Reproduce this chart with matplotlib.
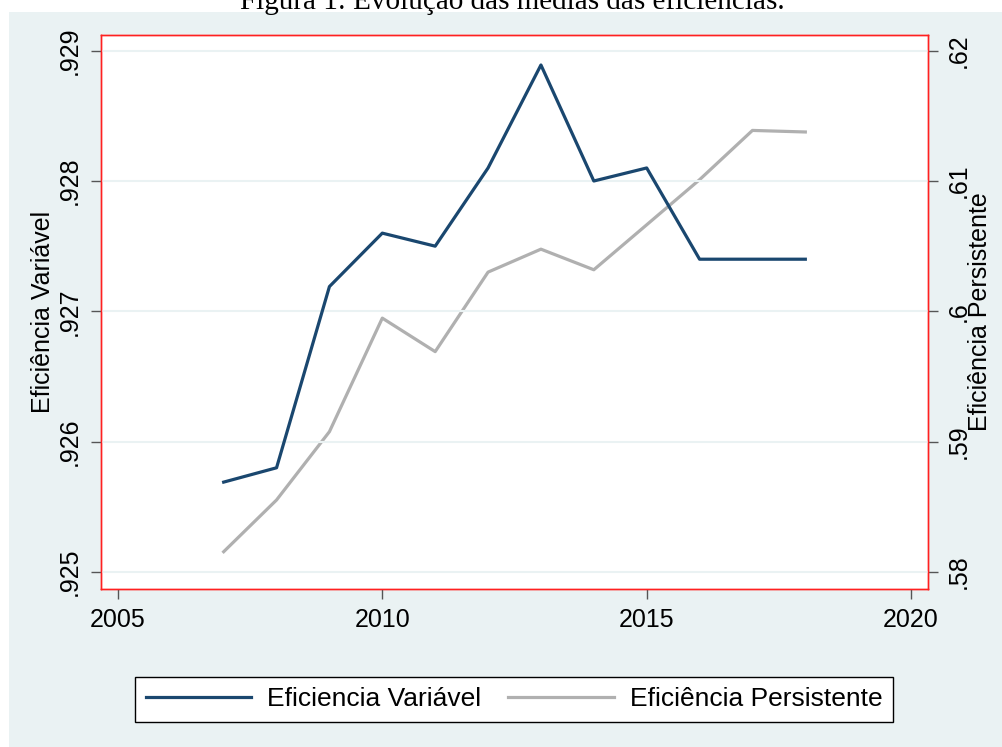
import matplotlib
matplotlib.use("Agg")
import matplotlib.pyplot as plt
from matplotlib.patches import Rectangle

# dados
anos = [2007, 2008, 2009, 2010, 2011, 2012, 2013, 2014, 2015, 2016, 2017, 2018]
ef_variavel = [0.92569, 0.92580, 0.92719, 0.92760, 0.92750, 0.92810,
               0.92889, 0.92800, 0.92810, 0.92740, 0.92740, 0.92740]
ef_persistente = [0.58156, 0.58553, 0.59077, 0.59948, 0.59691, 0.60301,
                  0.60477, 0.60319, 0.60664, 0.61010, 0.61388, 0.61376]

xticks = [2005, 2010, 2015, 2020]
yticks_esq = [0.925, 0.926, 0.927, 0.928, 0.929]
ylabels_esq = [".925", ".926", ".927", ".928", ".929"]
yticks_dir = [0.58, 0.59, 0.60, 0.61, 0.62]
ylabels_dir = [".58", ".59", ".6", ".61", ".62"]

navy = "#1a476f"
cinza = "#b0b0b0"
fundo = "#eaf2f3"

plt.rcParams["font.family"] = ["Liberation Sans", "DejaVu Sans"]

fig = plt.figure(figsize=(10.03, 7.47), dpi=100, facecolor="white")
# fundo estilo stata
fig.patches.append(Rectangle((9 / 1003, 0), 1, 1 - 12 / 747, transform=fig.transFigure,
                             facecolor=fundo, edgecolor="none", zorder=-10))

fig.text(0.5105, 1 - 9 / 747, "Figura 1: Evolução das médias das eficiências.",
         family=["Liberation Serif", "DejaVu Serif"], fontsize=21,
         ha="center", va="baseline")

ax = fig.add_axes([101 / 1003, 1 - 589 / 747, 827 / 1003, 554 / 747])
ax2 = ax.twinx()

l1, = ax.plot(anos, ef_variavel, color=navy, lw=2.3, label="Eficiencia Variável", zorder=3)
l2, = ax2.plot(anos, ef_persistente, color=cinza, lw=2.3, label="Eficiência Persistente", zorder=2)

ax.set_xlim(2004.68, 2020.32)
ax.set_ylim(0.92487, 0.92912)
ax2.set_ylim(0.5787, 0.6212)

ax.set_xticks(xticks)
ax.set_xticklabels([str(x) for x in xticks])
ax.set_yticks(yticks_esq)
ax.set_yticklabels(ylabels_esq, rotation=90, va="center")
ax2.set_yticks(yticks_dir)
ax2.set_yticklabels(ylabels_dir, rotation=90, va="center")

ax.grid(axis="y", color=fundo, lw=1.5)
ax.set_axisbelow(True)

for a in (ax, ax2):
    for s in a.spines.values():
        s.set_color("#ff2020")
        s.set_linewidth(1.0)
    a.tick_params(labelsize=18, length=7.5, width=1.0, color="#555555", pad=6)

ax.set_ylabel("Eficiência Variável", fontsize=18, labelpad=2)
ax2.set_ylabel("Eficiência Persistente", fontsize=18, labelpad=-2)

# ax2 fica atras com fundo branco, ax na frente transparente (linha navy por cima)
ax.set_zorder(2)
ax2.set_zorder(1)
ax.patch.set_visible(False)
ax2.patch.set_visible(True)
ax2.patch.set_facecolor("white")

leg = fig.legend([l1, l2], ["Eficiencia Variável", "Eficiência Persistente"],
                 loc="lower left", ncol=2, mode="expand",
                 bbox_to_anchor=(135 / 1003, 1 - 722 / 747, 758 / 1003, 49 / 747),
                 borderaxespad=0, fontsize=19, handlelength=4, handletextpad=0.6,
                 frameon=True, fancybox=False, edgecolor="black", framealpha=1)
leg.get_frame().set_linewidth(1.0)

fig.savefig("out.png", dpi=100, facecolor="white")
